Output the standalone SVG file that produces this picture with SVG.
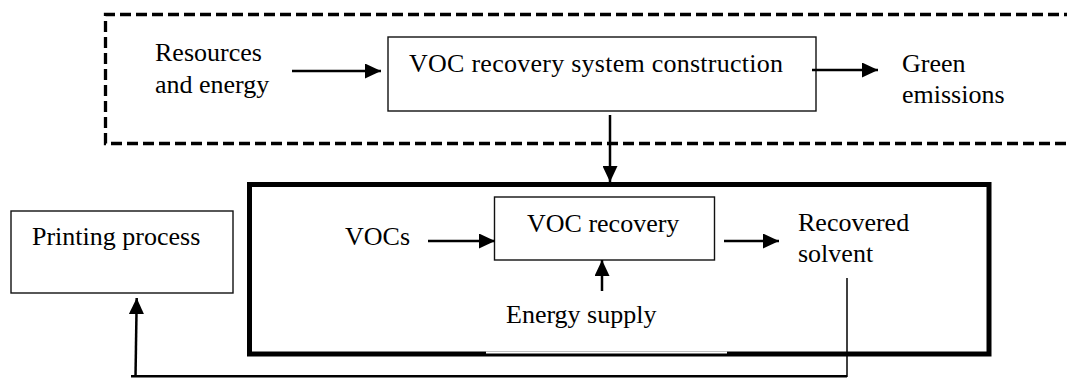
<svg xmlns="http://www.w3.org/2000/svg" width="1067" height="378" viewBox="0 0 1067 378">
  <style>
    .lbl { font-family: "Liberation Serif", "Times New Roman", Times, Tinos, "Nimbus Roman", "Noto Serif", FreeSerif, "DejaVu Serif", serif; font-size: 26px; fill: #000; }
    .box { fill: #fff; stroke: #111; stroke-width: 1.4; }
    .arrow { fill: none; stroke: #000; stroke-width: 2.5; marker-end: url(#head); }
    .wire { fill: none; stroke: #000; }
  </style>
  <defs>
    <marker id="head" viewBox="0 0 16 15" refX="16" refY="7.5" markerWidth="16" markerHeight="15" markerUnits="userSpaceOnUse" orient="auto">
      <path d="M0,0 L16,7.5 L0,15 Z" fill="#000"/>
    </marker>
  </defs>

  <rect width="1067" height="378" fill="#fff"/>

  <!-- system boundary: construction stage (dashed) -->
  <g id="construction-boundary">
    <path d="M1075,14.5 H105.5 V143.5 H1075" fill="none" stroke="#000" stroke-width="3.3" stroke-dasharray="11 5"/>
  </g>

  <!-- system boundary: operation stage (heavy frame) -->
  <g id="operation-boundary">
    <rect x="249.5" y="184.5" width="739.5" height="169.5" fill="none" stroke="#000" stroke-width="5"/>
    <rect x="486" y="351.5" width="241" height="2" fill="#fff"/>
  </g>

  <g id="resources">
    <text class="lbl" x="155" y="61">Resources</text>
    <text class="lbl" x="155" y="93">and energy</text>
  </g>

  <g id="construction">
    <rect class="box" x="388" y="37" width="428" height="74"/>
    <text class="lbl" x="409" y="72" textLength="374">VOC recovery system construction</text>
  </g>

  <g id="green-emissions">
    <text class="lbl" x="902" y="72">Green</text>
    <text class="lbl" x="902" y="103">emissions</text>
  </g>

  <g id="printing">
    <rect class="box" x="11" y="211" width="222" height="82"/>
    <text class="lbl" x="32" y="245">Printing process</text>
  </g>

  <g id="vocs">
    <text class="lbl" x="345" y="245">VOCs</text>
  </g>

  <g id="voc-recovery">
    <rect class="box" x="494.5" y="197" width="220" height="63"/>
    <text class="lbl" x="527" y="232">VOC recovery</text>
  </g>

  <g id="recovered-solvent">
    <text class="lbl" x="798" y="231">Recovered</text>
    <text class="lbl" x="798" y="262">solvent</text>
  </g>

  <g id="energy-supply">
    <text class="lbl" x="506" y="323">Energy supply</text>
  </g>

  <g id="connectors">
    <line class="arrow" x1="292" y1="71" x2="381" y2="71"/>
    <line class="arrow" x1="812" y1="70" x2="878" y2="70"/>
    <line class="arrow" x1="610" y1="115" x2="610" y2="182"/>
    <line class="arrow" x1="428" y1="241" x2="495" y2="241"/>
    <line class="arrow" x1="724" y1="241" x2="779" y2="241"/>
    <line class="arrow" x1="602" y1="291" x2="602" y2="260"/>
    <!-- solvent return loop to the printing process -->
    <line class="wire" x1="847" y1="278" x2="847" y2="377" stroke-width="1.5"/>
    <line class="wire" x1="131" y1="376.2" x2="847" y2="376.2" stroke-width="2.5"/>
    <line class="arrow" x1="135.5" y1="377" x2="136.7" y2="298"/>
  </g>
</svg>
